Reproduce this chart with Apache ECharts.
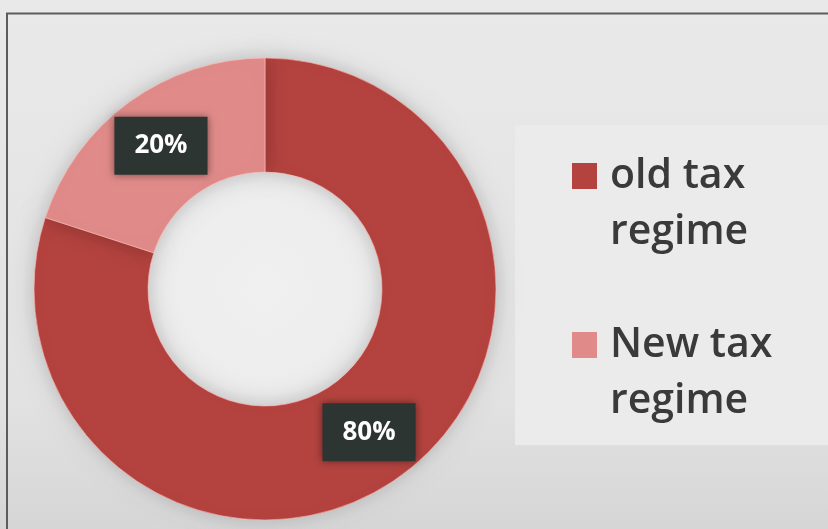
<!DOCTYPE html>
<html>
<head>
<meta charset="utf-8">
<script src="https://cdn.jsdelivr.net/npm/echarts@6/dist/echarts.min.js"></script>
<style>
  html, body { margin: 0; padding: 0; background: #e6e6e6; }
  #chart { width: 828px; height: 529px; }
</style>
</head>
<body>
<div id="chart"></div>
<script>
// Share of taxpayers by regime
const regimes = ['old tax regime', 'New tax regime'];
const shares = [80, 20];
const sliceColors = ['#b4433f', '#e08b89'];

// Legend swatch: a square level with the first text line, inside a box
// as tall as the two-line legend label (corner points keep the box size).
const swatchIcon = 'path://M0,0L0.001,0M0,15L25,15L25,41L0,41ZM0,112L0.001,112';

const chart = echarts.init(document.getElementById('chart'), null, { renderer: 'canvas' });

const option = {
  animation: false,
  backgroundColor: {
    type: 'linear', x: 0, y: 0, x2: 0, y2: 1,
    colorStops: [
      { offset: 0, color: '#e9e9e9' },
      { offset: 0.75, color: '#e2e2e2' },
      { offset: 1, color: '#d6d6d6' }
    ]
  },
  color: sliceColors,
  graphic: [
    // soft glow behind the ring
    {
      type: 'circle', z: -10, silent: true,
      shape: { cx: 265, cy: 289, r: 250 },
      style: {
        fill: {
          type: 'radial', x: 0.5, y: 0.5, r: 0.5,
          colorStops: [
            { offset: 0, color: 'rgba(240,240,240,1)' },
            { offset: 0.8, color: 'rgba(236,236,236,0.8)' },
            { offset: 1, color: 'rgba(236,236,236,0)' }
          ]
        }
      }
    },
    // lighter panel behind the legend
    {
      type: 'rect', z: -5, silent: true,
      shape: { x: 515, y: 125, width: 320, height: 320 },
      style: { fill: '#ebebeb' }
    },
    // frame lines along the top and left edges
    {
      type: 'polyline', z: 100, silent: true,
      shape: { points: [[7, 540], [7, 13.5], [840, 13.5]] },
      style: { stroke: '#5c5c5c', lineWidth: 2, fill: null }
    }
  ],
  legend: {
    orient: 'vertical',
    left: 572,
    top: 148,
    padding: 0,
    itemGap: 57,
    itemWidth: 25,
    itemHeight: 112,
    icon: swatchIcon,
    itemStyle: { borderWidth: 0 },
    data: regimes,
    formatter: function (name) {
      return name.replace(' regime', '\nregime');
    },
    textStyle: {
      fontFamily: 'Open Sans',
      fontWeight: 600,
      fontSize: 41,
      lineHeight: 56,
      color: '#3a3a3a',
      padding: [0, 0, 0, 8]
    }
  },
  series: [
    {
      type: 'pie',
      center: [265, 289],
      radius: [117, 231],
      startAngle: 90,
      clockwise: true,
      avoidLabelOverlap: false,
      itemStyle: {
        shadowBlur: 22,
        shadowColor: 'rgba(0,0,0,0.22)',
        borderColor: 'rgba(255,190,185,0.6)',
        borderWidth: 1
      },
      label: {
        show: true,
        position: 'inside',
        formatter: '{d}%',
        fontFamily: 'Open Sans',
        fontWeight: 700,
        fontSize: 26,
        lineHeight: 30,
        color: '#ffffff',
        backgroundColor: '#2d3532',
        padding: [14, 20],
        shadowBlur: 8,
        shadowColor: 'rgba(0,0,0,0.45)'
      },
      labelLine: { show: false },
      emphasis: { disabled: true },
      data: regimes.map(function (name, i) {
        return { name: name, value: shares[i] };
      })
    }
  ]
};

chart.setOption(option);
</script>
</body>
</html>
